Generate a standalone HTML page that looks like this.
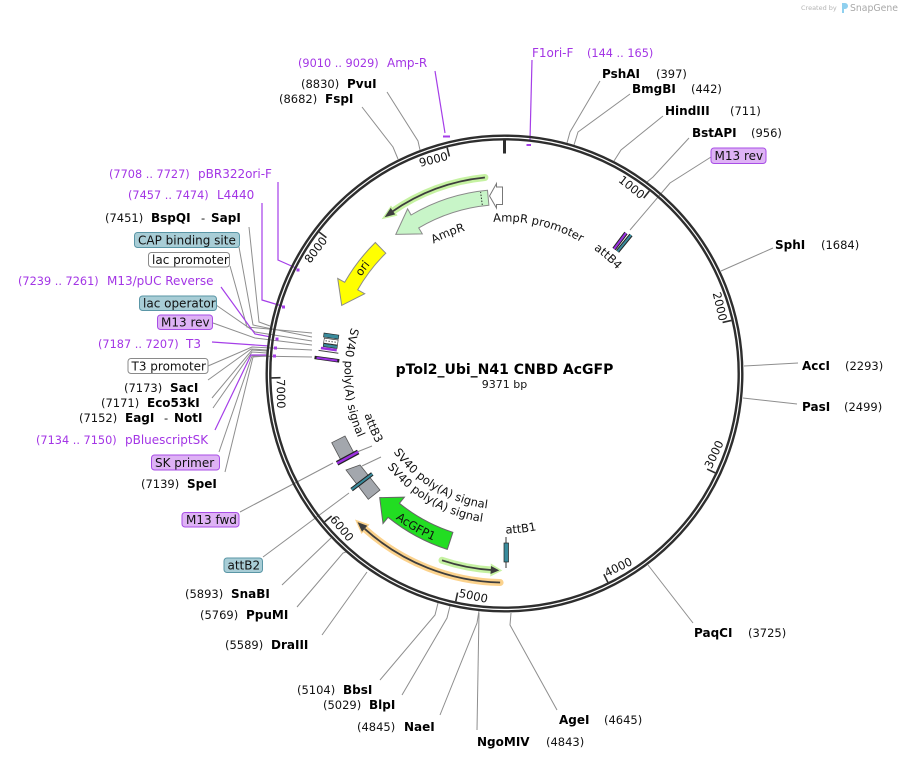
<!DOCTYPE html>
<html><head><meta charset="utf-8"><style>
html,body{margin:0;padding:0;background:#fff;}
svg{display:block;font-family:"DejaVu Sans","Liberation Sans",sans-serif;}
.n{font-size:11.5px;fill:#111;}
.b{font-size:12px;font-weight:bold;fill:#000;}
.p{font-size:12px;fill:#a335e5;}
.pn{font-size:11.3px;fill:#a335e5;}
.f{font-size:12px;fill:#111;}
.c{font-size:11.5px;fill:#111;}
.gl{fill:none;stroke:#8e8e8e;stroke-width:1;}
.pl{fill:none;stroke:#a53ee8;stroke-width:1.2;}
.tb{fill:#a8cdd6;stroke:#5a96a6;stroke-width:1;}
.lb{fill:#deb2f5;stroke:#a84ee6;stroke-width:1;}
.wb{fill:#fff;stroke:#8a8a8a;stroke-width:1;}
</style></head><body>
<svg width="898" height="760" viewBox="0 0 898 760" xmlns="http://www.w3.org/2000/svg">
<defs>
<path id="tAmpR" d="M391.1,278.4 A148,148 0 0,1 520.0,226.3"/>
<path id="tProm" d="M465.2,226.7 A152,152 0 0,1 604.2,258.8"/>
<path id="tB4" d="M569.2,234.8 A153,153 0 0,1 634.2,292.4"/>
<path id="tOri" d="M342.1,314.3 A173,173 0 0,1 400.4,235.3"/>
<path id="tSV1" d="M366.0,293.5 A160,160 0 0,0 376.7,469.8"/>
<path id="tB3" d="M360.7,348.2 A146,146 0 0,0 420.8,493.1"/>
<path id="tSV2" d="M376.7,420.0 A136,136 0 0,0 523.4,508.2"/>
<path id="tSV3" d="M364.5,427.3 A150,150 0 0,0 528.0,521.7"/>
<path id="tGFP" d="M347.3,464.3 A181.5,181.5 0 0,0 504.5,555"/>
<path id="tB1" d="M463.1,528.0 A160,160 0 0,0 577.1,516.1"/>
</defs>

<!-- Created by SnapGene -->
<text x="801" y="10" font-size="6.5" fill="#b4b4b4">Created by</text>
<path d="M842,3 h3 a3,3 0 0 1 0,6 h-1 v4 h-2 z" fill="#8fd0ef"/>
<text x="850" y="11" font-size="9.3" fill="#a8a8a8">SnapGene</text>

<!-- connector lines (gray) -->
<g class="gl">
<polyline points="387,92 418,141 420,150"/>
<polyline points="362,107 393,147 398,159"/>
<polyline points="600,81 570,132 567,143"/>
<polyline points="630,94 578,132 574,145"/>
<polyline points="663,116 621,150 614,161"/>
<polyline points="689,138 653,177 647,182"/>
<polyline points="711,157 670,183 630,230"/>
<polyline points="773,248 721,271"/>
<polyline points="798,363 744,366"/>
<polyline points="797,404 743,398"/>
<polyline points="693,623 648,565"/>
<polyline points="557,710 510,625 511,613"/>
<polyline points="477,730 479,613"/>
<polyline points="440,715 477,623 479,611"/>
<polyline points="402,695 447,618 450,606"/>
<polyline points="380,680 435,615 438,603"/>
<polyline points="322,635 367,572"/>
<polyline points="297,607 343,553 346,552"/>
<polyline points="282,585 331,538"/>
<polyline points="263,557 349,493"/>
<polyline points="240,512 333,463"/>
<polyline points="230,266 247,327 312,333"/>
<polyline points="239,247 253,325 312,337"/>
<polyline points="249,227 259,322 270,326"/>
<polyline points="216,305 255,332 312,341"/>
<polyline points="213,323 255,338 312,345"/>
<polyline points="208,366 252,347 312,350"/>
<polyline points="208,380 251,349 267,350"/>
<polyline points="212,398 252,350 267,351"/>
<polyline points="213,408 252,352 267,353"/>
<polyline points="219,452 252,356 312,357"/>
<polyline points="225,472 253,357 267,356"/>
<polyline points="357,452 372,446"/>
<polyline points="362,466 381,457"/>
</g>

<!-- purple primer lines -->
<g class="pl">
<polyline points="435,71 445,133"/>
<polyline points="532,60 530,140"/>
<polyline points="278,182 278,260 296,268"/>
<polyline points="262,203 262,300 282,306"/>
<polyline points="221,287 255,334 271,337"/>
<polyline points="212,342 269,346"/>
<polyline points="215,430 251,355 268,355"/>
</g>
<g fill="#a53ee8">
<rect x="443" y="135.5" width="7" height="2"/>
<rect x="526.5" y="144" width="4.5" height="2"/>
<rect x="296.5" y="268.5" width="3" height="3"/>
<rect x="282" y="305.5" width="3" height="3"/>
<rect x="275.5" y="337.5" width="3" height="3"/>
<rect x="274" y="346.5" width="3" height="3"/>
<rect x="273" y="354.5" width="3" height="3"/>
</g>

<!-- ring -->
<g transform="translate(504.5,373.5)">
<circle r="237.8" fill="none" stroke="#2e2e2e" stroke-width="2.4"/>
<circle r="234.2" fill="none" stroke="#2e2e2e" stroke-width="2.4"/>
<line x1="0" y1="-233" x2="0" y2="-220" stroke="#2e2e2e" stroke-width="3"/>
<g stroke="#2e2e2e" stroke-width="1.6">
<line x1="0" y1="-233" x2="0" y2="-224" transform="rotate(38.42)"/>
<line x1="0" y1="-233" x2="0" y2="-224" transform="rotate(76.83)"/>
<line x1="0" y1="-233" x2="0" y2="-224" transform="rotate(115.25)"/>
<line x1="0" y1="-233" x2="0" y2="-224" transform="rotate(153.67)"/>
<line x1="0" y1="-233" x2="0" y2="-224" transform="rotate(192.08)"/>
<line x1="0" y1="-233" x2="0" y2="-224" transform="rotate(230.5)"/>
<line x1="0" y1="-233" x2="0" y2="-224" transform="rotate(268.92)"/>
<line x1="0" y1="-233" x2="0" y2="-224" transform="rotate(307.34)"/>
<line x1="0" y1="-233" x2="0" y2="-224" transform="rotate(345.75)"/>
</g>
<g class="c">
<text transform="rotate(38.42)" x="-1.5" y="-221" text-anchor="end">1000</text>
<text transform="rotate(76.83)" x="-1.5" y="-221" text-anchor="end">2000</text>
<text transform="rotate(-64.75)" x="1.5" y="228">3000</text>
<text transform="rotate(-26.33)" x="1.5" y="228">4000</text>
<text transform="rotate(12.08)" x="1.5" y="228">5000</text>
<text transform="rotate(50.5)" x="1.5" y="228">6000</text>
<text transform="rotate(88.92)" x="1.5" y="228">7000</text>
<text transform="rotate(307.34)" x="-1.5" y="-221" text-anchor="end">8000</text>
<text transform="rotate(345.75)" x="-1.5" y="-221" text-anchor="end">9000</text>
</g>
</g>

<!-- ORF glow arcs -->
<path d="M484.9,177.5 A197,197 0 0,0 391.5,212.1" fill="none" stroke="#c6f2a2" stroke-width="7" stroke-linecap="round"/>
<polygon points="381.6,219.2 397.5,215.6 391,205.5" fill="#c6f2a2"/>
<path d="M484.9,177.5 A197,197 0 0,0 391.5,212.1" fill="none" stroke="#3d3d3d" stroke-width="1.8"/>
<polygon points="384.6,217.2 395.2,214.4 390.7,207.9" fill="#3d3d3d"/>

<path d="M442.0,560.3 A197,197 0 0,0 492.5,570.1" fill="none" stroke="#c6f2a2" stroke-width="7" stroke-linecap="round"/>
<polygon points="502.3,570.5 490.8,563.5 490.3,576.5" fill="#c6f2a2"/>
<path d="M442.0,560.3 A197,197 0 0,0 492.5,570.1" fill="none" stroke="#3d3d3d" stroke-width="1.8"/>
<polygon points="499.3,570.4 491.0,566.0 490.5,574.0" fill="#3d3d3d"/>

<path d="M500.1,582.5 A209,209 0 0,1 364.7,528.8" fill="none" stroke="#fbd28c" stroke-width="7" stroke-linecap="round"/>
<polygon points="355,519.5 369.5,524.5 361.5,534" fill="#fbd28c"/>
<path d="M500.1,582.5 A209,209 0 0,1 364.7,528.8" fill="none" stroke="#3d3d3d" stroke-width="1.8"/>
<polygon points="357.5,522.1 367.3,525.8 362.0,531.8" fill="#3d3d3d"/>

<!-- AmpR -->
<path d="M487.5,190.3 A184,184 0 0,0 411.1,215.0 L407.6,208.9 L395.8,234.4 L422.3,233.9 L418.7,227.9 A169,169 0 0,1 488.9,205.2 Z" fill="#c8f5c8" stroke="#8a8a8a" stroke-width="1"/>
<line x1="482.3" y1="205" x2="480.6" y2="192.1" stroke="#333" stroke-width="1" stroke-dasharray="1.5,1.5"/>
<!-- AmpR promoter -->
<polygon points="502.5,187 496.5,187 496.5,183.5 489.5,196 496.5,208 496.5,204.5 502.5,204.5" fill="#fff" stroke="#777" stroke-width="1"/>
<!-- ori -->
<path d="M375.3,242.5 A184,184 0 0,0 344.7,282.3 L337.7,278.4 L341.7,305.4 L364.7,293.7 L357.7,289.8 A169,169 0 0,1 385.8,253.2 Z" fill="#ffff00" stroke="#8a8a8a" stroke-width="1"/>
<!-- AcGFP1 -->
<path d="M447.3,549.4 A185,185 0 0,1 388.1,517.3 L383.0,523.5 L379.7,497.6 L404.4,497.1 L399.4,503.3 A167,167 0 0,0 452.9,532.3 Z" fill="#22dd22" stroke="#666" stroke-width="1"/>

<!-- small features left cluster -->
<g transform="rotate(8 330 348)">
<rect x="322" y="334" width="15" height="4" fill="#3a8b9c" stroke="#222" stroke-width="0.6"/>
<rect x="323" y="339" width="14" height="5" fill="#fff" stroke="#333" stroke-width="0.6"/>
<line x1="324.5" y1="341.5" x2="336" y2="341.5" stroke="#555" stroke-width="1" stroke-dasharray="1.5,1.5"/>
<rect x="323" y="344.5" width="14" height="3" fill="#3a8b9c" stroke="#222" stroke-width="0.6"/>
<rect x="321" y="348" width="16" height="2.5" fill="#9b30e0"/>
<line x1="319" y1="352" x2="339" y2="352" stroke="#444" stroke-width="1"/>
<line x1="316" y1="359.5" x2="341" y2="359.5" stroke="#222" stroke-width="3.5"/>
<line x1="318" y1="359.5" x2="339" y2="359.5" stroke="#9b30e0" stroke-width="2"/>
</g>

<!-- attB4 -->
<line x1="614" y1="249" x2="626" y2="233" stroke="#222" stroke-width="4"/>
<line x1="614" y1="249" x2="626" y2="233" stroke="#9b30e0" stroke-width="2"/>
<line x1="617.5" y1="251.5" x2="631" y2="235" stroke="#222" stroke-width="4"/>
<line x1="617.5" y1="251.5" x2="631" y2="235" stroke="#3a8b9c" stroke-width="2"/>

<!-- SV40 gray boxes -->
<polygon points="331.7,442.7 345,436 355,455 341.7,461.7" fill="#a3a7ad" stroke="#555" stroke-width="0.8"/>
<line x1="358.2" y1="451.9" x2="337.1" y2="463.3" stroke="#222" stroke-width="5"/>
<line x1="358.2" y1="451.9" x2="337.1" y2="463.3" stroke="#9b30e0" stroke-width="2.5"/>
<polygon points="346,470 360,465 380,490 368.3,499.3" fill="#a3a7ad" stroke="#555" stroke-width="0.8"/>
<line x1="372.3" y1="473.9" x2="351.6" y2="489.6" stroke="#222" stroke-width="4"/>
<line x1="372.3" y1="473.9" x2="351.6" y2="489.6" stroke="#3a8b9c" stroke-width="2"/>

<!-- attB1 -->
<line x1="506" y1="537" x2="506" y2="568" stroke="#333" stroke-width="1"/>
<rect x="504" y="543" width="4.5" height="19" fill="#3a8b9c" stroke="#222" stroke-width="0.7"/>

<!-- curved feature labels -->
<text class="c"><textPath href="#tAmpR" startOffset="50%" text-anchor="middle">AmpR</textPath></text>
<text class="c"><textPath href="#tProm" startOffset="50%" text-anchor="middle">AmpR promoter</textPath></text>
<text class="c"><textPath href="#tB4" startOffset="50%" text-anchor="middle">attB4</textPath></text>
<text class="c"><textPath href="#tOri" startOffset="50%" text-anchor="middle">ori</textPath></text>
<text class="c"><textPath href="#tSV1" startOffset="50%" text-anchor="middle">SV40 poly(A) signal</textPath></text>
<text class="c"><textPath href="#tB3" startOffset="50%" text-anchor="middle">attB3</textPath></text>
<text class="c"><textPath href="#tSV2" startOffset="50%" text-anchor="middle">SV40 poly(A) signal</textPath></text>
<text class="c"><textPath href="#tSV3" startOffset="50%" text-anchor="middle">SV40 poly(A) signal</textPath></text>
<text class="c"><textPath href="#tGFP" startOffset="50%" text-anchor="middle">AcGFP1</textPath></text>
<text class="c"><textPath href="#tB1" startOffset="50%" text-anchor="middle">attB1</textPath></text>

<!-- title -->
<text x="504.5" y="374" text-anchor="middle" font-size="14" font-weight="bold" fill="#000">pTol2_Ubi_N41 CNBD AcGFP</text>
<text x="504.5" y="388" text-anchor="middle" font-size="11" fill="#111">9371 bp</text>

<!-- labels top-left -->
<text class="pn" x="298" y="67">(9010 .. 9029)</text><text class="p" x="387" y="67">Amp-R</text>
<text class="n" x="301" y="88">(8830)</text><text class="b" x="347" y="88">PvuI</text>
<text class="n" x="279" y="103">(8682)</text><text class="b" x="325" y="103">FspI</text>
<text class="pn" x="109" y="178">(7708 .. 7727)</text><text class="p" x="198" y="178">pBR322ori-F</text>
<text class="pn" x="128" y="199">(7457 .. 7474)</text><text class="p" x="217" y="199">L4440</text>
<text class="n" x="105" y="222">(7451)</text><text class="b" x="151" y="222">BspQI</text><text class="n" x="201" y="222">-</text><text class="b" x="211" y="222">SapI</text>

<rect class="tb" x="134.5" y="232.5" width="105" height="15" rx="3"/><text class="f" x="138" y="244.5">CAP binding site</text>
<rect class="wb" x="148.5" y="252.5" width="81" height="14.5" rx="3"/><text class="f" x="152" y="264">lac promoter</text>
<text class="pn" x="18" y="285">(7239 .. 7261)</text><text class="p" x="107" y="285">M13/pUC Reverse</text>
<rect class="tb" x="139.5" y="296" width="77" height="14.5" rx="3"/><text class="f" x="143" y="307.5">lac operator</text>
<rect class="lb" x="157.5" y="315" width="55" height="14.5" rx="3"/><text class="f" x="161" y="326.5">M13 rev</text>
<text class="pn" x="98" y="348">(7187 .. 7207)</text><text class="p" x="186" y="348">T3</text>
<rect class="wb" x="128" y="358.5" width="80" height="15" rx="3"/><text class="f" x="131.5" y="370.5">T3 promoter</text>
<text class="n" x="124" y="392">(7173)</text><text class="b" x="170" y="392">SacI</text>
<text class="n" x="101" y="407">(7171)</text><text class="b" x="147" y="407">Eco53kI</text>
<text class="n" x="79" y="422">(7152)</text><text class="b" x="125" y="422">EagI</text><text class="n" x="164" y="422">-</text><text class="b" x="174" y="422">NotI</text>
<text class="pn" x="36" y="444">(7134 .. 7150)</text><text class="p" x="125" y="444">pBluescriptSK</text>
<rect class="lb" x="151.5" y="455" width="68" height="15" rx="3"/><text class="f" x="155" y="467">SK primer</text>
<text class="n" x="141" y="488">(7139)</text><text class="b" x="187" y="488">SpeI</text>
<rect class="lb" x="182" y="512.5" width="57" height="14.5" rx="3"/><text class="f" x="186" y="524">M13 fwd</text>
<rect class="tb" x="224" y="558" width="38.5" height="14.5" rx="3"/><text class="f" x="227.5" y="569.5">attB2</text>

<!-- labels bottom -->
<text class="n" x="185" y="598">(5893)</text><text class="b" x="231" y="598">SnaBI</text>
<text class="n" x="200" y="619">(5769)</text><text class="b" x="246" y="619">PpuMI</text>
<text class="n" x="225" y="649">(5589)</text><text class="b" x="271" y="649">DraIII</text>
<text class="n" x="297" y="694">(5104)</text><text class="b" x="343" y="694">BbsI</text>
<text class="n" x="323" y="709">(5029)</text><text class="b" x="369" y="709">BlpI</text>
<text class="n" x="357" y="731">(4845)</text><text class="b" x="404" y="731">NaeI</text>
<text class="b" x="477" y="746">NgoMIV</text><text class="n" x="546" y="746">(4843)</text>
<text class="b" x="559" y="724">AgeI</text><text class="n" x="604" y="724">(4645)</text>

<!-- labels right -->
<text class="b" x="694" y="637">PaqCI</text><text class="n" x="748" y="637">(3725)</text>
<text class="b" x="802" y="411">PasI</text><text class="n" x="844" y="411">(2499)</text>
<text class="b" x="802" y="370">AccI</text><text class="n" x="845" y="370">(2293)</text>
<text class="b" x="775" y="249">SphI</text><text class="n" x="821" y="249">(1684)</text>
<rect class="lb" x="711" y="148" width="55" height="15.5" rx="3"/><text class="f" x="714.5" y="160">M13 rev</text>
<text class="b" x="692" y="137">BstAPI</text><text class="n" x="751" y="137">(956)</text>
<text class="b" x="665" y="115">HindIII</text><text class="n" x="730" y="115">(711)</text>
<text class="b" x="632" y="93">BmgBI</text><text class="n" x="691" y="93">(442)</text>
<text class="b" x="602" y="78">PshAI</text><text class="n" x="656" y="78">(397)</text>
<text class="p" x="532" y="57">F1ori-F</text><text class="pn" x="587" y="57">(144 .. 165)</text>
</svg>
</body></html>
